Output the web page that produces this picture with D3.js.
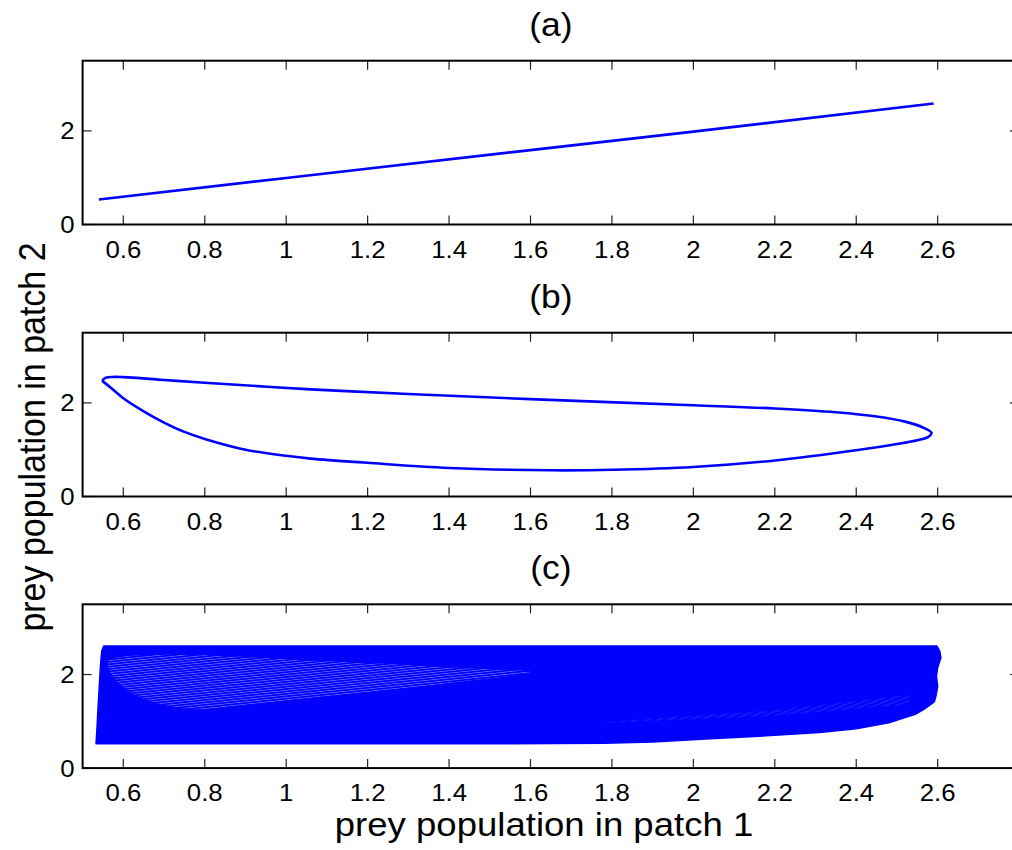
<!DOCTYPE html>
<html>
<head>
<meta charset="utf-8">
<script src="https://cdn.jsdelivr.net/npm/d3@7"></script>
<style>
  html, body { margin: 0; padding: 0; background: #fff; }
  svg { display: block; }
  text { font-family: "Liberation Sans", Arial, Helvetica, sans-serif; fill: #000; }
</style>
</head>
<body>
<svg id="chart" width="1012" height="850"></svg>
<script>
// Axis setup shared by the three phase-plane panels
const xDomain = [0.5, 2.8];
const yDomain = [0, 3.5];
const xTicks = [0.6, 0.8, 1.0, 1.2, 1.4, 1.6, 1.8, 2.0, 2.2, 2.4, 2.6];
const xTickLabels = ["0.6", "0.8", "1", "1.2", "1.4", "1.6", "1.8", "2", "2.2", "2.4", "2.6"];
const yTicks = [0, 2];
const yTickLabels = ["0", "2"];
const panelTitles = ["(a)", "(b)", "(c)"];
const xLabel = "prey population in patch 1";
const yLabel = "prey population in patch 2";

// (a) synchronous trajectory: patch 2 follows patch 1
const aX = [0.54, 1.0, 1.6, 2.0, 2.59];
const aY = [0.535, 0.995, 1.59, 1.985, 2.585];

// (b) limit cycle in the (patch 1, patch 2) plane
const bX = [0.548, 0.556, 0.575, 0.6, 0.7, 0.8, 1.06, 1.3, 1.6, 2.0, 2.2, 2.35, 2.45, 2.52, 2.565, 2.585,
            2.578, 2.55, 2.5, 2.4, 2.2, 2.0, 1.8, 1.65, 1.4, 1.2, 1.06, 1.0, 0.9, 0.8, 0.75, 0.7, 0.65, 0.6, 0.57, 0.548];
const bY = [2.47, 2.535, 2.555, 2.55, 2.49, 2.43, 2.29, 2.19, 2.08, 1.95, 1.88, 1.8, 1.71, 1.6, 1.47, 1.36,
            1.28, 1.2, 1.12, 0.99, 0.77, 0.63, 0.57, 0.56, 0.61, 0.72, 0.81, 0.87, 1.0, 1.23, 1.38, 1.58, 1.82, 2.1, 2.32, 2.47];

// (c) outer envelope of the densely wound trajectory
const cX = [0.533, 0.535, 0.538, 0.541, 0.544, 0.547, 0.552, 1.0, 2.0, 2.598, 2.605, 2.608, 2.6, 2.597, 2.6,
            2.596, 2.592, 2.58, 2.565, 2.545, 2.48, 2.4, 2.31, 2.15, 2.03, 1.9, 1.78, 1.5, 0.533];
const cY = [0.52, 0.8, 1.3, 1.75, 2.2, 2.5, 2.61, 2.61, 2.61, 2.61, 2.5, 2.36, 2.15, 1.96, 1.74,
            1.55, 1.42, 1.34, 1.25, 1.15, 0.97, 0.84, 0.76, 0.675, 0.62, 0.56, 0.53, 0.52, 0.52];
// (c) sparser wedge where individual windings remain distinguishable
const wX = [0.565, 0.6, 0.7, 0.8, 1.06, 1.31, 1.43, 1.6, 1.43, 1.31, 1.06, 0.9, 0.8, 0.7, 0.62, 0.58, 0.565];
const wY = [2.3, 2.38, 2.42, 2.41, 2.3, 2.2, 2.14, 2.05, 1.85, 1.72, 1.5, 1.35, 1.25, 1.35, 1.6, 1.9, 2.1];
// (c) faint band of windings near the lower right
const fX = [1.78, 2.2, 2.53, 2.53, 2.2, 1.78];
const fY = [0.985, 1.24, 1.56, 1.36, 1.12, 0.965];

const svg = d3.select("#chart");
const left = 82.6, right = 1019.1;
const panelTop = [60.7, 332.7, 604.3];
const panelH = 163.8;
const blue = "#0000ff";
const stretch = 1.075;   // glyphs are drawn slightly wide

const x = d3.scaleLinear().domain(xDomain).range([left, right]);

const defs = svg.append("defs");
function hatch(id, h, angle, opacity) {
  const p = defs.append("pattern")
    .attr("id", id)
    .attr("patternUnits", "userSpaceOnUse")
    .attr("width", 12).attr("height", h)
    .attr("patternTransform", `rotate(${angle})`);
  p.append("rect").attr("width", 12).attr("height", h).attr("fill", blue);
  p.append("line").attr("x1", 0).attr("x2", 12).attr("y1", h / 2).attr("y2", h / 2)
    .attr("stroke", "#ffffff").attr("stroke-width", 0.6).attr("stroke-opacity", opacity);
}
hatch("windings", 2.4, -6, 0.55);
hatch("faint", 4, -22, 0.3);

const zip = (xs, ys) => xs.map((v, i) => [v, ys[i]]);

// horizontal text with a slight horizontal stretch
function label(parent, tx, ty, str, size, anchor) {
  return parent.append("text")
    .attr("transform", `translate(${tx},${ty}) scale(${stretch},1)`)
    .attr("text-anchor", anchor).attr("font-size", size).text(str);
}

panelTop.forEach((top, i) => {
  const bottom = top + panelH;
  const y = d3.scaleLinear().domain(yDomain).range([bottom, top]);
  const g = svg.append("g");
  const clipId = "clip" + i;
  defs.append("clipPath").attr("id", clipId)
    .append("rect").attr("x", left).attr("y", top).attr("width", right - left).attr("height", panelH);

  const plot = g.append("g").attr("clip-path", `url(#${clipId})`);

  if (i === 0) {
    const line = d3.line().x(d => x(d[0])).y(d => y(d[1]));
    plot.append("path").attr("d", line(zip(aX, aY)))
      .attr("fill", "none").attr("stroke", blue).attr("stroke-width", 2.6);
  } else if (i === 1) {
    const line = d3.line().x(d => x(d[0])).y(d => y(d[1])).curve(d3.curveCatmullRom.alpha(0.5));
    plot.append("path").attr("d", line(zip(bX, bY)))
      .attr("fill", "none").attr("stroke", blue).attr("stroke-width", 2.6);
  } else {
    const c = d3.line().x(d => x(d[0])).y(d => y(d[1])).curve(d3.curveLinear);
    plot.append("path").attr("d", c(zip(cX, cY)) + "Z")
      .attr("fill", blue).attr("stroke", blue).attr("stroke-width", 1.5).attr("stroke-linejoin", "round");
    const w = d3.line().x(d => x(d[0])).y(d => y(d[1])).curve(d3.curveCatmullRomClosed);
    plot.append("path").attr("d", w(zip(wX, wY)))
      .attr("fill", "url(#windings)").attr("stroke", "none");
    plot.append("path").attr("d", c(zip(fX, fY)) + "Z")
      .attr("fill", "url(#faint)").attr("stroke", "none");
  }

  // ticks on all four sides, pointing inward
  const tk = 9;
  xTicks.forEach((t, k) => {
    g.append("line").attr("x1", x(t)).attr("x2", x(t)).attr("y1", bottom).attr("y2", bottom - tk)
      .attr("stroke", "#222").attr("stroke-width", 1.2);
    g.append("line").attr("x1", x(t)).attr("x2", x(t)).attr("y1", top).attr("y2", top + tk)
      .attr("stroke", "#222").attr("stroke-width", 1.2);
    label(g, x(t), bottom + 33, xTickLabels[k], 24, "middle");
  });
  yTicks.forEach((t, k) => {
    g.append("line").attr("x1", left).attr("x2", left + tk).attr("y1", y(t)).attr("y2", y(t))
      .attr("stroke", "#222").attr("stroke-width", 1.2);
    g.append("line").attr("x1", right).attr("x2", right - tk).attr("y1", y(t)).attr("y2", y(t))
      .attr("stroke", "#222").attr("stroke-width", 1.2);
    label(g, left - 8, y(t) + 8.5, yTickLabels[k], 24, "end");
  });

  g.append("rect").attr("x", left).attr("y", top).attr("width", right - left).attr("height", panelH)
    .attr("fill", "none").attr("stroke", "#000").attr("stroke-width", 2);

  label(g, (left + right) / 2, top - 25, panelTitles[i], 33, "middle");
});

label(svg, 544, 836, xLabel, 34, "middle");
svg.append("text").attr("transform", `translate(45,437) scale(${stretch},1) rotate(-90)`)
  .attr("text-anchor", "middle").attr("font-size", 34).text(yLabel);
</script>
</body>
</html>
